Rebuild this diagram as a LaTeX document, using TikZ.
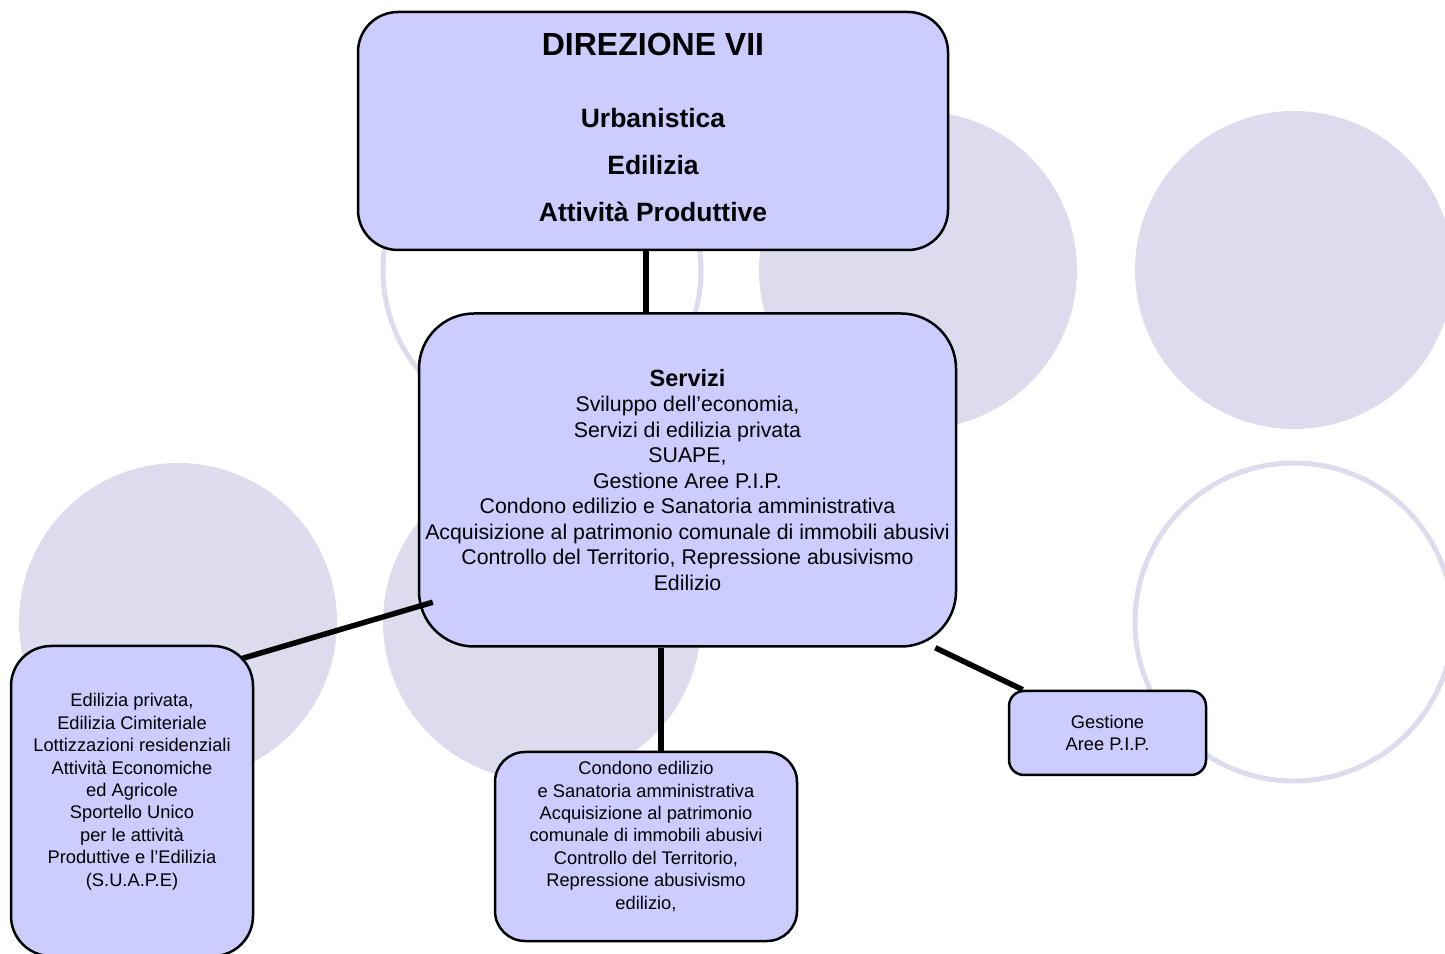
\documentclass[tikz,border=0pt]{standalone}
\usepackage{fontspec}
\setmainfont{Liberation Sans}
\usepackage{tikz}
\usetikzlibrary{positioning}

\definecolor{boxblue}{RGB}{204,204,255}
\definecolor{bubblegrey}{RGB}{221,220,238}

\begin{document}
\begin{tikzpicture}[x=1pt, y=1pt,
        unit/.style={rectangle, draw, line width=2.5pt, fill=boxblue, align=center, inner sep=2pt},
        small/.style={font=\fontsize{18.3}{22.4}\selectfont},
        link/.style={line width=5.5pt},
        bubble/.style={fill=bubblegrey},
        ring/.style={draw=bubblegrey, line width=5pt}
    ]
        \useasboundingbox (0,0) rectangle (1445,953);

        % background circles
        \draw[ring] (542,683) circle (159pt);
        \fill[bubble] (918,683) circle (159pt);
        \fill[bubble] (1294,683) circle (159pt);
        \fill[bubble] (178,331) circle (159pt);
        \fill[bubble] (542,331) circle (159pt);
        \draw[ring] (1294,331) circle (159pt);

        \node[unit, rounded corners=40pt, minimum width=590pt, minimum height=238pt,
            font=\bfseries\fontsize{26.5}{47}\selectfont] (direz) at (653,822)
            {{\fontsize{32}{47}\selectfont DIREZIONE VII}\\[25pt]
             Urbanistica\\ Edilizia\\ Attività Produttive\\[-40pt] ~};

        \node[unit, rounded corners=55pt, minimum width=537pt, minimum height=333pt,
            font=\fontsize{21.3}{25.5}\selectfont, below=61pt of direz, xshift=34.5pt] (servizi)
            {{\bfseries\fontsize{23.5}{25.5}\selectfont Servizi}\\
             Sviluppo dell’economia,\\ Servizi di edilizia privata\\ SUAPE,\\
             Gestione Aree P.I.P.\\ Condono edilizio e Sanatoria amministrativa\\
             Acquisizione al patrimonio comunale di immobili abusivi\\
             Controllo del Territorio, Repressione abusivismo\\ Edilizio};

        \node[unit, small, rounded corners=40pt, minimum width=242pt, minimum height=310pt] (edilpriv) at (132,152)
            {Edilizia privata,\\ Edilizia Cimiteriale\\ Lottizzazioni residenziali\\
             Attività Economiche\\ ed Agricole\\ Sportello Unico\\ per le attività\\
             Produttive e l’Edilizia\\ (S.U.A.P.E)\\ ~};

        \node[unit, small, rounded corners=30pt, minimum width=302pt, minimum height=189pt,
            below=103pt of servizi, xshift=-41.5pt] (condono)
            {Condono edilizio\\ e Sanatoria amministrativa\\ Acquisizione al patrimonio\\
             comunale di immobili abusivi\\ Controllo del Territorio,\\
             Repressione abusivismo\\ edilizio,\\ ~};

        \node[unit, small, rounded corners=15pt, minimum width=197pt, minimum height=84pt] (pip) at (1107.5,220)
            {Gestione\\ Aree P.I.P.};

        \draw[link] ([xshift=-7pt]direz.south) -- ([xshift=-7pt]direz.south |- servizi.north);
        \draw[link] ([shift={(15,45.5)}]servizi.south west) -- ([shift={(-13,-14)}]edilpriv.north east);
        \draw[link] ([xshift=-26.5pt]servizi.south) -- ([xshift=15pt]condono.north);
        \draw[link] ([xshift=-22pt]servizi.south east) -- ([xshift=15pt]pip.north west);
    \end{tikzpicture}
\end{document}
